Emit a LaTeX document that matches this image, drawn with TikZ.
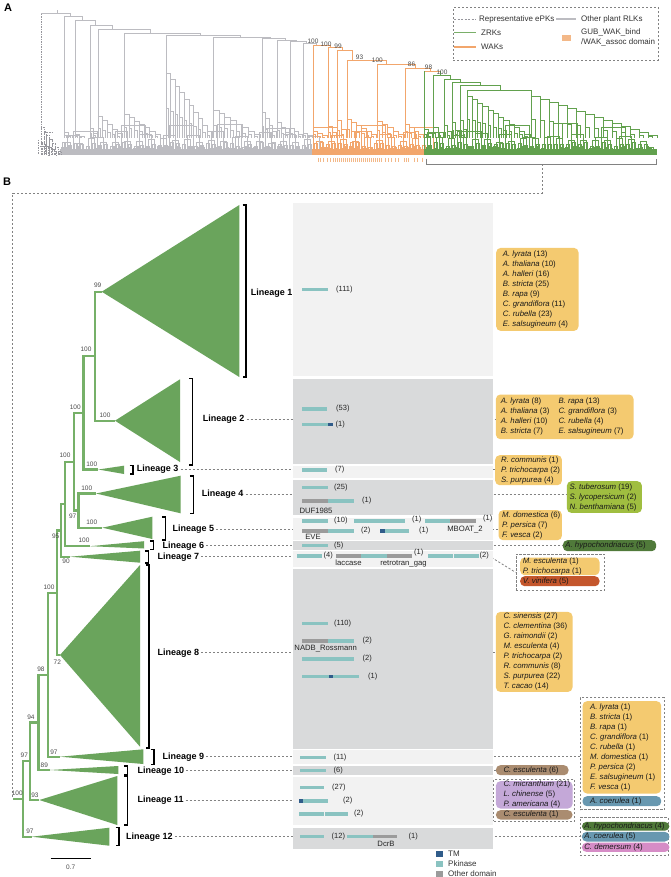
\documentclass[tikz,border=0pt]{standalone}
\usepackage{fontspec}
\setmainfont{Liberation Sans}
\definecolor{tgray}{RGB}{188,188,193}
\definecolor{epkc}{RGB}{150,150,156}
\definecolor{torange}{RGB}{242,166,108}
\definecolor{osq}{RGB}{243,184,136}
\definecolor{tgreen}{RGB}{98,161,78}
\definecolor{bgreen}{RGB}{106,164,92}
\definecolor{bgline}{RGB}{118,176,104}
\definecolor{colL}{RGB}{242,242,242}
\definecolor{colD}{RGB}{217,218,219}
\definecolor{pk}{RGB}{138,195,193}
\definecolor{tm}{RGB}{48,92,138}
\definecolor{od}{RGB}{155,155,155}
\definecolor{cyel}{RGB}{244,202,112}
\definecolor{colive}{RGB}{160,190,64}
\definecolor{cdkg}{RGB}{80,122,58}
\definecolor{cred}{RGB}{196,86,44}
\definecolor{cbrown}{RGB}{170,140,112}
\definecolor{cpurp}{RGB}{196,168,216}
\definecolor{cblue}{RGB}{104,152,176}
\definecolor{cpink}{RGB}{214,140,198}
\definecolor{dashg}{RGB}{130,130,130}
\tikzset{
 gA/.style={draw=tgray, line width=0.7pt},
 oA/.style={draw=torange, line width=0.7pt},
 grA/.style={draw=tgreen, line width=0.7pt},
 epk/.style={draw=epkc, line width=0.6pt, dash pattern=on 1.5pt off 1pt},
 gtree/.style={draw=bgline, line width=2.4pt},
 gtri/.style={fill=bgreen},
 brkst/.style={draw=black, line width=1.1pt},
 linlab/.style={font=\fontsize{9}{11}\selectfont\bfseries, anchor=west, inner sep=0pt},
 bs/.style={font=\fontsize{6.5}{7}\selectfont, text=black!70, inner sep=0pt},
 cnt/.style={font=\fontsize{7.5}{9}\selectfont, text=black!85, anchor=west, inner sep=0pt},
 dname/.style={font=\fontsize{7.7}{9}\selectfont, text=black!85, inner sep=0pt},
 legt/.style={font=\fontsize{8}{10}\selectfont, text=black!80, anchor=west, inner sep=0pt},
 spb/.style={rounded corners=4.5pt, anchor=north west, inner sep=0pt},
 sptxt/.style={font=\fontsize{7.8}{10}\selectfont, text=black!90, anchor=west, align=left, inner sep=0pt},
 dashl/.style={draw=dashg, line width=0.8pt, dash pattern=on 2.2pt off 1.8pt},
 dbox/.style={draw=dashg, line width=0.9pt, dash pattern=on 2.2pt off 1.8pt, anchor=north west, inner sep=0pt},
 colbox/.style={anchor=north west, inner sep=0pt, minimum width=200.3pt},
}
\newcommand\myladder[6]{%
  \foreach \i in {1,...,#5}{%
    \pgfmathsetmacro\xa{#2+(\i-1)*(#3-#2)/#5}%
    \pgfmathsetmacro\xb{#2+\i*(#3-#2)/#5}%
    \pgfmathsetmacro\ya{#4+(\i-1)*(#6-#4)/#5}%
    \pgfmathsetmacro\yc{\ya+0.55*(#6-\ya)}%
    \pgfmathsetmacro\xc{\xa+0.5*(\xb-\xa)}%
    \draw[#1] (\xa,#6) -- (\xa,\ya) -- (\xb,\ya) -- (\xb,#6);%
    \draw[#1] (\xa,\yc) -- (\xc,\yc) -- (\xc,#6);%
  }}
\newcommand\spn[8]{%
  \draw[#1] (#3,#7) -- (#3,#2) -- (#4,#2) -- (#4,#5);%
  \myladder{#1}{#3}{#6}{#7}{#8}{138}}
\newcommand\pickcol[1]{\ifdim#1pt<312pt\def\mycc{tgray}\else\ifdim#1pt<424pt\def\mycc{torange}\else\def\mycc{tgreen}\fi\fi}
\newcommand\dm[4]{\fill[#1] (#2,#4-1.7) rectangle (#3,#4+1.7);}
\newcommand\brk[3]{\draw[brkst] (#1-3.5,#2) -- (#1,#2) -- (#1,#3) -- (#1-3.5,#3);}
\begin{document}
\begin{tikzpicture}[x=1pt,y=-1pt]
\useasboundingbox[fill=white] (0,0) rectangle (670,877);
\pgfmathsetseed{42}
% ================= Panel A =================
\node[font=\bfseries\fontsize{11}{13}\selectfont, inner sep=0pt] (pA) at (8,8) {A};
% dense leaf band
\foreach \w/\ylo/\yhi in {3/146/151,6/142/147,12/137/143,24/131/138,48/123/132}{%
  \pgfmathtruncatemacro\N{595/\w-1}%
  \foreach \j in {0,...,\N}{%
    \pgfmathsetmacro\xx{61+\j*\w}%
    \pgfmathsetmacro\yy{\ylo+rnd*(\yhi-\ylo)}%
    \pgfmathsetmacro\xl{\xx+\w/4}%
    \pgfmathsetmacro\xr{\xx+3*\w/4}%
    \pickcol{\xl}%
    \draw[\mycc,line width=0.65pt] (\xl,155) -- (\xl,\yy) -- (\xr,\yy) -- (\xr,155);%
  }}
\draw[tgray, line width=6pt] (60,152.5) -- (312,152.5);
\draw[torange, line width=6pt] (312,152.5) -- (424,152.5);
\draw[tgreen, line width=6pt] (424,152.5) -- (657,152.5);
% root and ePKs
\draw[gA] (57,10.5) -- (57,13.6);
\draw[gA] (41,13.6) -- (70,13.6) -- (70,16.5);
\draw[epk] (41,13.6) -- (41,127);
\myladder{epk}{41}{61}{127}{7}{155}
\draw[epk] (38,140) -- (38,155) (39.5,146) -- (44,146) (44,132) -- (52,132);
% gray spine
\spn{gA}{16.5}{64}{82}{20.5}{72}{132}{2}
\spn{gA}{20.5}{75}{95}{25.5}{84}{134}{2}
\spn{gA}{25.5}{90}{112}{29}{97}{128}{2}
\spn{gA}{29}{98}{150}{33}{122}{116}{5}
\spn{gA}{33}{124}{200}{35}{160}{114}{7}
\spn{gA}{35}{166}{240}{37}{212}{73}{10}
\spn{gA}{37}{213}{270}{38.5}{260}{110}{8}
\spn{gA}{38.5}{262}{285}{40}{276}{112}{4}
\spn{gA}{40}{277}{296}{41.5}{289}{122}{3}
\spn{gA}{41.5}{290}{306}{43}{302}{128}{3}
\spn{gA}{43}{303}{316}{45}{312}{133}{2}
% orange spine
\spn{oA}{45}{313}{330}{47.5}{327}{131}{3}
\spn{oA}{47.5}{328}{342}{50.5}{336}{126}{2}
\spn{oA}{50.5}{337}{352}{60.5}{346}{120}{2}
\spn{oA}{60.5}{347}{386}{64}{376}{119}{6}
\spn{oA}{64}{377}{415}{68}{404}{121}{5}
\spn{oA}{68}{405}{430}{71.5}{423}{124}{4}
\draw[oA] (424,71.5) -- (440,71.5);
\draw[grA] (424,71.5) -- (424,129);
\draw[grA] (440,71.5) -- (440,75.5);
\myladder{grA}{424}{432}{129}{2}{138}
% green spine
\spn{grA}{75.5}{433}{450}{79}{443}{127}{2}
\spn{grA}{79}{444}{460}{82}{451}{125}{2}
\spn{grA}{82}{452}{480}{85.5}{459}{122}{2}
\spn{grA}{85.5}{460}{500}{90}{466}{120}{2}
\spn{grA}{90}{467}{531}{96}{530}{96}{12}
\myladder{grA}{531}{657}{96}{14}{138}
% bootstrap labels A
\node[bs] (ba1) at (313,41.5) {100};
\node[bs] (ba2) at (326,44) {100};
\node[bs] (ba3) at (338,46.5) {99};
\node[bs] (ba4) at (359.5,57) {93};
\node[bs] (ba5) at (377.4,60.5) {100};
\node[bs] (ba6) at (411.5,64.5) {86};
\node[bs] (ba7) at (428.6,67.5) {98};
\node[bs] (ba8) at (442,72) {100};
% orange domain ticks
\foreach \t in {318,320,323,327,330,333,335,337,339,341,343,345,347,349,351,353,355,357,359,361,363,365,367,369,371,373,375,377,379,381,385,388,391,395,398,404,406,408,414,417,422}{%
  \draw[osq, line width=1pt] (\t,158) -- (\t,162);}
% bracket under ZRKs
\draw[dashg, line width=0.9pt] (426,158.6) -- (426,164.3) -- (656,164.3) -- (656,158.6);
\coordinate (brA) at (542,164.3);
\coordinate (brB) at (542,193);
\coordinate (brC) at (12.7,193);
% legend A
\node[dbox, minimum width=205pt, minimum height=52.7pt] (legA) at (452.7,7.3) {};
\draw[epkc, line width=0.9pt, dash pattern=on 2pt off 1.5pt] (454,19) -- (476,19);
\node[legt] (lg1) at (479,19) {Representative ePKs};
\draw[tgray, line width=1.1pt] (556,19) -- (576,19);
\node[legt] (lg2) at (581,19) {Other plant RLKs};
\draw[tgreen!85, line width=1pt] (454,33) -- (476,33);
\node[legt] (lg3) at (481,33) {ZRKs};
\draw[torange, line width=1.1pt] (454,47) -- (476,47);
\node[legt] (lg4) at (481,47) {WAKs};
\fill[osq] (562,35.5) rectangle (571,41.5);
\node[legt, align=left] (lg5) at (581,37) {GUB\_WAK\_bind\\/WAK\_assoc domain};
% ================= Panel B =================
\node[font=\bfseries\fontsize{11}{13}\selectfont, inner sep=0pt] (pB) at (7,182) {B};
\coordinate (a1) at (101.7,291.7);
\coordinate (a2) at (115,420.7);
\coordinate (a3) at (98.3,469.5);
\coordinate (a4) at (96,493.5);
\coordinate (a5) at (102.3,527.7);
\coordinate (a6) at (90,546.2);
\coordinate (a7) at (70,556.7);
\coordinate (a8) at (60,655);
\coordinate (a9) at (60,756.7);
\coordinate (a10) at (50,770);
\coordinate (a11) at (39.3,800);
\coordinate (a12) at (31.7,836.7);
\coordinate (n12) at (95,356.2);
\coordinate (n123) at (83.3,412.85);
\coordinate (n45) at (78.3,510.6);
\coordinate (n15) at (74,461.7);
\coordinate (n16) at (65,504.1);
\coordinate (n17) at (61,530.4);
\coordinate (n18) at (56.7,592.7);
\coordinate (n19) at (47.7,674.7);
\coordinate (n110) at (38.3,722.35);
\coordinate (n111) at (30,761.2);
\coordinate (rt) at (22.7,798.9);
\coordinate (r0) at (12.7,798.9);
% dashed link from panel A
\draw[dashl] (brA) -- (brB) -- (brC) -- (r0);
% triangles
\fill[gtri] (a1) -- (239.3,205) -- (239.3,377) -- cycle;
\fill[gtri] (a2) -- (180,379.3) -- (180,462) -- cycle;
\fill[gtri] (a3) -- (124,465.7) -- (124,474) -- cycle;
\fill[gtri] (a4) -- (180.7,475.7) -- (180.7,513.3) -- cycle;
\fill[gtri] (a5) -- (152.3,516.7) -- (152.3,539) -- cycle;
\fill[gtri] (a6) -- (144,541.2) -- (144,548.5) -- cycle;
\fill[gtri] (a7) -- (140,550.7) -- (140,562.7) -- cycle;
\fill[gtri] (a8) -- (140,565) -- (140,746.7) -- cycle;
\fill[gtri] (a9) -- (143.3,749.3) -- (143.3,764) -- cycle;
\fill[gtri] (a10) -- (118.3,766) -- (118.3,774) -- cycle;
\fill[gtri] (a11) -- (117.3,776) -- (117.3,825) -- cycle;
\fill[gtri] (a12) -- (109.3,827.7) -- (109.3,845.7) -- cycle;
% tree edges
\draw[gtree] (a1) -| (n12) |- (a2);
\draw[gtree] (n12) -| (n123) |- (a3);
\draw[gtree] (a4) -| (n45) |- (a5);
\draw[gtree] (n123) -| (n15) |- (n45);
\draw[gtree] (n15) -| (n16) |- (a6);
\draw[gtree] (n16) -| (n17) |- (a7);
\draw[gtree] (n17) -| (n18) |- (a8);
\draw[gtree] (n18) -| (n19) |- (a9);
\draw[gtree] (n19) -| (n110) |- (a10);
\draw[gtree] (n110) -| (n111) |- (a11);
\draw[gtree] (n111) -| (rt) |- (a12);
\draw[gtree] (rt) -- (r0);
% bootstrap labels B
\node[bs] (bb1) at (97.7,285.7) {99};
\node[bs] (bb2) at (105,415.5) {100};
\node[bs] (bb3) at (86,349.5) {100};
\node[bs] (bb4) at (75.3,407) {100};
\node[bs] (bb5) at (91.7,464) {100};
\node[bs] (bb6) at (65,455.3) {100};
\node[bs] (bb7) at (86.7,488.5) {100};
\node[bs] (bb8) at (72.7,516) {97};
\node[bs] (bb9) at (91.7,522.5) {100};
\node[bs] (bb10) at (84,540.7) {100};
\node[bs] (bb11) at (55.7,536) {95};
\node[bs] (bb12) at (66,561.5) {90};
\node[bs] (bb13) at (49,587) {100};
\node[bs] (bb14) at (57.3,662.7) {72};
\node[bs] (bb15) at (41,669.5) {98};
\node[bs] (bb16) at (54,752) {97};
\node[bs] (bb17) at (31,717) {94};
\node[bs] (bb18) at (44.3,765) {89};
\node[bs] (bb19) at (24.3,755.3) {97};
\node[bs] (bb20) at (35,795) {93};
\node[bs] (bb21) at (17.3,793.3) {100};
\node[bs] (bb22) at (30,831.5) {97};
% scale bar
\draw[black, line width=1.1pt] (50.7,858.3) -- (90.7,858.3);
\node[bs] (sc) at (70.7,867) {0.7};
% brackets
\brk{246}{205}{377}
\brk{192.7}{378.3}{465}
\brk{133}{465.7}{474}
\brk{193.3}{476}{513.3}
\brk{165.7}{517}{540}
\brk{153.3}{541}{549.7}
\brk{148.3}{551}{563}
\brk{149}{565}{748}
\brk{154}{749.3}{764.3}
\brk{127.3}{766}{775}
\brk{127.3}{776.7}{825}
\brk{119}{827.7}{845.3}
% lineage labels
\node[linlab] (lab1) at (250.7,292.7) {Lineage 1};
\node[linlab] (lab2) at (202.7,419) {Lineage 2};
\node[linlab] (lab3) at (136.7,469.3) {Lineage 3};
\node[linlab] (lab4) at (201.7,494.3) {Lineage 4};
\node[linlab] (lab5) at (172.3,529) {Lineage 5};
\node[linlab] (lab6) at (162.3,545.7) {Lineage 6};
\node[linlab] (lab7) at (157.3,556.7) {Lineage 7};
\node[linlab] (lab8) at (157.3,652.7) {Lineage 8};
\node[linlab] (lab9) at (162.3,756.7) {Lineage 9};
\node[linlab] (lab10) at (137.3,770.7) {Lineage 10};
\node[linlab] (lab11) at (137.3,800) {Lineage 11};
\node[linlab] (lab12) at (126,836.7) {Lineage 12};
% species boxes
\node[spb, fill=cyel, minimum width=82.3pt, minimum height=83pt] (sp1) at (496,247.7) {};
\node[sptxt] (st1) at ([xshift=6.7pt]sp1.west) {\textit{A. lyrata} (13)\\\textit{A. thaliana} (10)\\\textit{A. halleri} (16)\\\textit{B. stricta} (25)\\\textit{B. rapa} (9)\\\textit{C. grandiflora} (11)\\\textit{C. rubella} (23)\\\textit{E. salsugineum} (4)};
\node[spb, fill=cyel, minimum width=137.6pt, minimum height=44.7pt] (sp2) at (495.7,394.3) {};
\node[sptxt] (st2a) at ([xshift=5pt]sp2.west) {\textit{A. lyrata} (8)\\\textit{A. thaliana} (3)\\\textit{A. halleri} (10)\\\textit{B. stricta} (7)};
\node[sptxt] (st2b) at ([xshift=62.6pt]sp2.west) {\textit{B. rapa} (13)\\\textit{C. grandiflora} (3)\\\textit{C. rubella} (4)\\\textit{E. salsugineum} (7)};
\node[spb, fill=cyel, minimum width=66.7pt, minimum height=30pt] (sp3) at (495,455) {};
\node[sptxt] (st3) at ([xshift=6pt]sp3.west) {\textit{R. communis} (1)\\\textit{P. trichocarpa} (2)\\\textit{S. purpurea} (4)};
\node[spb, fill=colive, minimum width=75pt, minimum height=31.7pt] (sp4) at (566.7,481) {};
\node[sptxt] (st4) at ([xshift=2.8pt]sp4.west) {\textit{S. tuberosum} (19)\\\textit{S. lycopersicum} (2)\\\textit{N. benthamiana} (5)};
\node[spb, fill=cyel, minimum width=63.4pt, minimum height=30pt] (sp5) at (498.3,510) {};
\node[sptxt] (st5) at ([xshift=3.7pt]sp5.west) {\textit{M. domestica} (6)\\\textit{P. persica} (7)\\\textit{F. vesca} (2)};
\node[spb, fill=cdkg, minimum width=93.3pt, minimum height=11pt] (sp6) at (562.7,540) {};
\node[sptxt] (st6) at ([xshift=2.5pt]sp6.west) {\textit{A. hypochondriacus} (5)};
\node[dbox, minimum width=88.7pt, minimum height=36.3pt] (d7) at (515.5,553.7) {};
\node[spb, fill=cyel, minimum width=79.3pt, minimum height=17.7pt] (sp7) at (520,557.3) {};
\node[sptxt] (st7) at ([xshift=2.7pt]sp7.west) {\textit{M. esculenta} (1)\\\textit{P. trichocarpa} (1)};
\node[spb, fill=cred, minimum width=79.3pt, minimum height=10pt] (sp7b) at (520,576) {};
\node[sptxt] (st7b) at ([xshift=2.7pt]sp7b.west) {\textit{V. vinifera} (5)};
\node[spb, fill=cyel, minimum width=76.6pt, minimum height=80pt] (sp8) at (495.7,611.7) {};
\node[sptxt] (st8) at ([xshift=7.6pt]sp8.west) {\textit{C. sinensis} (27)\\\textit{C. clementina} (36)\\\textit{G. raimondii} (2)\\\textit{M. esculenta} (4)\\\textit{P. trichocarpa} (2)\\\textit{R. communis} (8)\\\textit{S. purpurea} (22)\\\textit{T. cacao} (14)};
\node[dbox, minimum width=84pt, minimum height=112pt] (d9) at (580,697.3) {};
\node[spb, fill=cyel, minimum width=78.7pt, minimum height=92.3pt] (sp9) at (582.3,701) {};
\node[sptxt] (st9) at ([xshift=7.7pt]sp9.west) {\textit{A. lyrata} (1)\\\textit{B. stricta} (1)\\\textit{B. rapa} (1)\\\textit{C. grandiflora} (1)\\\textit{C. rubella} (1)\\\textit{M. domestica} (1)\\\textit{P. persica} (2)\\\textit{E. salsugineum} (1)\\\textit{F. vesca} (1)};
\node[spb, fill=cblue, minimum width=78.7pt, minimum height=10pt] (sp9b) at (582.3,796) {};
\node[sptxt] (st9b) at ([xshift=7.7pt]sp9b.west) {\textit{A. coerulea} (1)};
\node[spb, fill=cbrown, minimum width=72.6pt, minimum height=10pt] (sp10) at (495.7,765) {};
\node[sptxt] (st10) at ([xshift=7.6pt]sp10.west) {\textit{C. esculenta} (6)};
\node[dbox, minimum width=81pt, minimum height=41.7pt] (d11) at (493.3,779) {};
\node[spb, fill=cpurp, minimum width=76.6pt, minimum height=27.3pt] (sp11) at (495.7,781) {};
\node[sptxt] (st11) at ([xshift=7.6pt]sp11.west) {\textit{C. micranthum} (21)\\\textit{L. chinense} (5)\\\textit{P. americana} (4)};
\node[spb, fill=cbrown, minimum width=76.6pt, minimum height=9.3pt] (sp11b) at (495.7,810) {};
\node[sptxt] (st11b) at ([xshift=7.6pt]sp11b.west) {\textit{C. esculenta} (1)};
\node[dbox, minimum width=88.5pt, minimum height=37.7pt] (d12) at (579.5,817.3) {};
\node[spb, fill=cdkg, minimum width=87.5pt, minimum height=8.8pt] (sp12a) at (581.7,821.7) {};
\node[sptxt] (st12a) at ([xshift=2.4pt]sp12a.west) {\textit{A. hypochondriacus} (4)};
\node[spb, fill=cblue, minimum width=87.5pt, minimum height=9.6pt] (sp12b) at (581.7,831.7) {};
\node[sptxt] (st12b) at ([xshift=2.4pt]sp12b.west) {\textit{A. coerulea} (5)};
\node[spb, fill=cpink, minimum width=87.5pt, minimum height=9.2pt] (sp12c) at (581.7,842.5) {};
\node[sptxt] (st12c) at ([xshift=2.4pt]sp12c.west) {\textit{C. demersum} (4)};
% dashed connectors
\coordinate (e7) at (293,556.7);
\coordinate (c7) at (491.5,557.5);
\draw[dashl] ([xshift=2pt]lab2.east) -- (lab2.east -| sp2.west);
\draw[dashl] ([xshift=2pt]lab3.east) -- (lab3.east -| sp3.west);
\draw[dashl] ([xshift=2pt]lab4.east) -- (lab4.east -| sp4.west);
\draw[dashl] ([xshift=2pt]lab5.east) -- (lab5.east -| sp5.west);
\draw[dashl] ([xshift=2pt]lab6.east) -- (lab6.east -| sp6.west);
\draw[dashl] ([xshift=2pt]lab7.east) -- (e7);
\draw[dashl] (c7) -- (d7.west);
\draw[dashl] ([xshift=2pt]lab8.east) -- (lab8.east -| sp8.west);
\draw[dashl] ([xshift=2pt]lab9.east) -- (lab9.east -| d9.west);
\draw[dashl] ([xshift=2pt]lab10.east) -- (lab10.east -| sp10.west);
\draw[dashl] ([xshift=2pt]lab11.east) -- (lab11.east -| d11.west);
\draw[dashl] ([xshift=2pt]lab12.east) -- (lab12.east -| d12.west);
% domain column
\node[colbox, fill=colL, minimum height=173.3pt] (col1) at (292.7,202.7) {};
\node[colbox, fill=colD, minimum height=85pt] (col2) at (292.7,379) {};
\node[colbox, fill=colL, minimum height=12pt] (col3) at (292.7,465.3) {};
\node[colbox, fill=colD, minimum height=35pt] (col4) at (292.7,480) {};
\node[colbox, fill=colL, minimum height=22.3pt] (col5) at (292.7,517.7) {};
\node[colbox, fill=colD, minimum height=8.6pt] (col6) at (292.7,540.7) {};
\node[colbox, fill=colL, minimum height=16pt] (col7) at (292.7,550.7) {};
\node[colbox, fill=colD, minimum height=180pt] (col8) at (292.7,568.3) {};
\node[colbox, fill=colL, minimum height=14pt] (col9) at (292.7,750) {};
\node[colbox, fill=colD, minimum height=9.3pt] (col10) at (292.7,765.7) {};
\node[colbox, fill=colL, minimum height=48.3pt] (col11) at (292.7,776.7) {};
\node[colbox, fill=colD, minimum height=21pt] (col12) at (292.7,827.3) {};
% domains
\dm{pk}{302.3}{328.3}{289.3}
\node[cnt] (k1) at (336,289.3) {(111)};
\dm{pk}{302}{327}{409}
\node[cnt] (k2) at (336,409) {(53)};
\dm{pk}{302}{328}{424.3}\dm{tm}{328}{332.5}{424.3}
\node[cnt] (k3) at (335.5,424.3) {(1)};
\dm{pk}{302}{327.3}{470}
\node[cnt] (k4) at (335,470) {(7)};
\dm{pk}{302}{328}{487.3}
\node[cnt] (k5) at (334,487.3) {(25)};
\dm{od}{302}{328}{501}\dm{pk}{328}{354}{501}
\node[cnt] (k6) at (362,501) {(1)};
\node[dname] (dn1) at (316,510.7) {DUF1985};
\dm{pk}{302}{328}{521}
\node[cnt] (k7) at (334,520.5) {(10)};
\dm{pk}{354}{379.5}{521}\dm{pk}{380}{405}{521}
\node[cnt] (k8) at (412,519.5) {(1)};
\dm{pk}{425}{450}{521}\dm{od}{450}{476}{521}
\node[cnt] (k9) at (483,518.5) {(1)};
\node[dname] (dn2) at (465,530) {MBOAT\_2};
\dm{od}{302}{328}{531}\dm{pk}{328}{354}{531}
\node[cnt] (k10) at (361,531) {(2)};
\dm{tm}{380}{385}{531}\dm{pk}{385}{409}{531}
\node[cnt] (k11) at (419,531) {(1)};
\node[dname] (dn3) at (313,536.7) {EVE};
\dm{pk}{302}{328}{545.3}
\node[cnt] (k12) at (334,545.3) {(5)};
\dm{pk}{296.7}{321.7}{556}
\node[cnt] (k13) at (323.5,555.5) {(4)};
\dm{od}{336}{361}{556}\dm{pk}{361}{386.5}{556}\dm{od}{386.7}{411.7}{556}
\node[cnt] (k14) at (414,553) {(1)};
\dm{pk}{427.7}{453}{556}\dm{pk}{453.5}{478.5}{556}
\node[cnt] (k15) at (479.5,556) {(2)};
\node[dname] (dn4) at (348.5,562.7) {laccase};
\node[dname] (dn5) at (403.5,564) {retrotran\_gag};
\dm{pk}{302.3}{328.3}{623.3}
\node[cnt] (k16) at (334,623.3) {(110)};
\dm{od}{302}{328}{641}\dm{pk}{328}{354}{641}
\node[cnt] (k17) at (362.5,641) {(2)};
\node[dname] (dn6) at (325.7,648.3) {NADB\_Rossmann};
\dm{pk}{302}{327.7}{659}\dm{pk}{328.3}{354}{659}
\node[cnt] (k18) at (362.5,659) {(2)};
\dm{pk}{302}{329}{676.7}\dm{tm}{329}{333}{676.7}\dm{pk}{333}{359}{676.7}
\node[cnt] (k19) at (368,676.7) {(1)};
\dm{pk}{300}{326}{757.3}
\node[cnt] (k20) at (333.5,757.3) {(11)};
\dm{pk}{300}{326}{770.7}
\node[cnt] (k21) at (333.5,770.7) {(6)};
\dm{pk}{299.5}{324.3}{787.3}
\node[cnt] (k22) at (332,787.3) {(27)};
\dm{tm}{299}{303}{801}\dm{pk}{303}{328.3}{801}
\node[cnt] (k23) at (343,801) {(2)};
\dm{pk}{299}{324}{814}\dm{pk}{324.5}{348.3}{814}
\node[cnt] (k24) at (354,814) {(2)};
\dm{pk}{300}{324.3}{836.7}
\node[cnt] (k25) at (331.5,836.7) {(12)};
\dm{pk}{346.7}{372.7}{836.7}\dm{od}{372.7}{397.3}{836.7}
\node[cnt] (k26) at (408.5,836.7) {(1)};
\node[dname] (dn7) at (386,844) {DcrB};
% legend B
\fill[tm] (436,850.5) rectangle (443,856.5);
\node[legt] (lt1) at (448,853.5) {TM};
\fill[pk] (436,860.5) rectangle (443,866.5);
\node[legt] (lt2) at (448,863.5) {Pkinase};
\fill[od] (436,870.5) rectangle (443,876.5);
\node[legt] (lt3) at (448,873.3) {Other domain};
\end{tikzpicture}
\end{document}
